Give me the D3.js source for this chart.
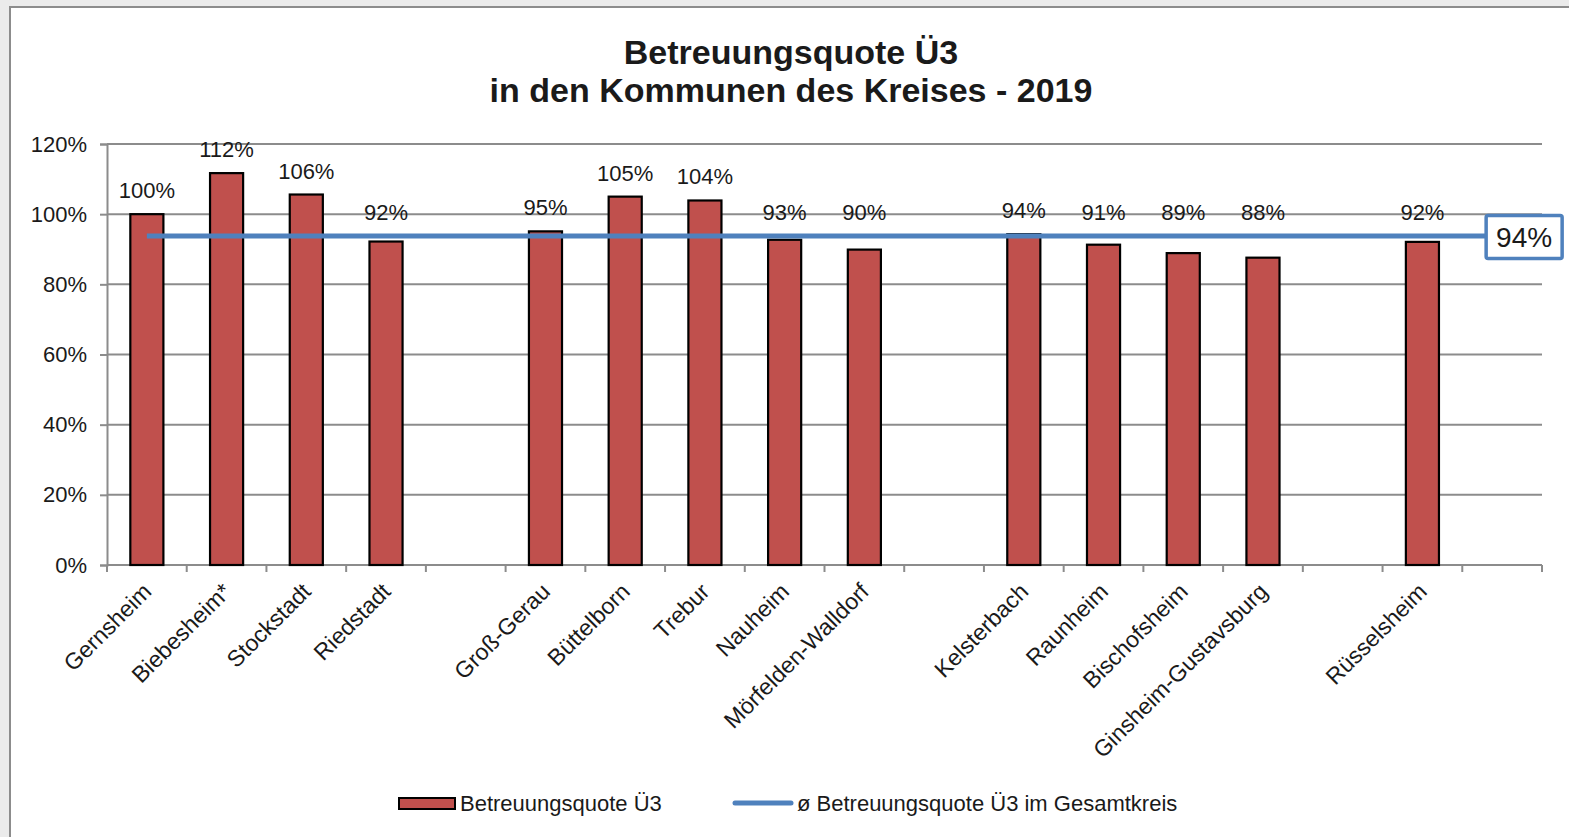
<!DOCTYPE html>
<html>
<head>
<meta charset="utf-8">
<script src="https://cdn.jsdelivr.net/npm/d3@7"></script>
<style>
  html, body { margin: 0; padding: 0; background: #ebebeb; }
  svg { display: block; }
  text { font-family: "Liberation Sans", Arial, sans-serif; fill: #1a1a1a; }
</style>
</head>
<body>
<script>
// ---- data ----
const titleLines = ["Betreuungsquote Ü3", "in den Kommunen des Kreises - 2019"];
const categories = ["Gernsheim", "Biebesheim*", "Stockstadt", "Riedstadt", null,
  "Groß-Gerau", "Büttelborn", "Trebur", "Nauheim", "Mörfelden-Walldorf", null,
  "Kelsterbach", "Raunheim", "Bischofsheim", "Ginsheim-Gustavsburg", null,
  "Rüsselsheim", null];
const quote = [1.00, 1.117, 1.056, 0.922, null,
  0.951, 1.050, 1.039, 0.927, 0.899, null,
  0.943, 0.913, 0.889, 0.876, null,
  0.921, null];
const average = 0.938;
const yTicks = [0, 0.2, 0.4, 0.6, 0.8, 1.0, 1.2];
const seriesNames = ["Betreuungsquote Ü3", "ø Betreuungsquote Ü3 im Gesamtkreis"];

// ---- layout ----
const W = 1569, H = 837;
const pL = 107, pR = 1542, pT = 144, pB = 565;
const barColor = "#C0504D", lineColor = "#4F81BD", gridColor = "#8c8c8c";
const pct = d3.format(".0%");

const svg = d3.select("body").append("svg").attr("width", W).attr("height", H);

// chart frame
svg.append("rect").attr("x", 10).attr("y", 7).attr("width", W + 10).attr("height", H + 10)
  .attr("fill", "#fff").attr("stroke", "#8c8c8c").attr("stroke-width", 2);

// title
svg.append("text").attr("x", 791).attr("y", 64).attr("text-anchor", "middle")
  .style("font-size", "34px").style("font-weight", "bold").text(titleLines[0]);
svg.append("text").attr("x", 791).attr("y", 102).attr("text-anchor", "middle")
  .style("font-size", "34px").style("font-weight", "bold").text(titleLines[1]);

const x = d3.scaleBand().domain(d3.range(categories.length)).range([pL, pR]).padding(0);
const y = d3.scaleLinear().domain([0, 1.2]).range([pB, pT]);
const step = x.bandwidth();
const barW = step * 0.415;
const cx = i => x(i) + step / 2;

// gridlines
svg.append("g").selectAll("line").data(yTicks.filter(t => t > 0)).join("line")
  .attr("x1", pL).attr("x2", pR).attr("y1", d => y(d)).attr("y2", d => y(d))
  .attr("stroke", gridColor).attr("stroke-width", 2);

// y axis
const yAxis = svg.append("g").attr("transform", `translate(${pL},0)`)
  .call(d3.axisLeft(y).tickValues(yTicks).tickFormat(pct).tickSize(7).tickPadding(13));
yAxis.select(".domain").attr("stroke", gridColor).attr("stroke-width", 2);
yAxis.selectAll(".tick line").attr("stroke", gridColor).attr("stroke-width", 2);
yAxis.selectAll(".tick text").style("font-size", "22px").attr("fill", "#1a1a1a")
  .style("font-family", "'Liberation Sans', Arial, sans-serif");

// x axis (slot boundary ticks)
const bounds = d3.range(categories.length + 1).map(i => pL + i * step);
svg.append("line").attr("x1", pL).attr("x2", pR).attr("y1", pB).attr("y2", pB)
  .attr("stroke", gridColor).attr("stroke-width", 2);
svg.append("g").selectAll("line").data(bounds).join("line")
  .attr("x1", d => d).attr("x2", d => d).attr("y1", pB).attr("y2", pB + 7)
  .attr("stroke", gridColor).attr("stroke-width", 2);

// category labels
svg.append("g").selectAll("text")
  .data(categories.map((c, i) => ({ c, i })).filter(d => d.c))
  .join("text")
  .attr("transform", d => `translate(${cx(d.i) + 6},${pB + 28}) rotate(-45)`)
  .attr("text-anchor", "end")
  .style("font-size", "23px")
  .text(d => d.c);

// bars
const barData = quote.map((v, i) => ({ v, i })).filter(d => d.v != null);
svg.append("g").selectAll("rect").data(barData).join("rect")
  .attr("x", d => cx(d.i) - barW / 2).attr("width", barW)
  .attr("y", d => y(d.v)).attr("height", d => y(0) - y(d.v))
  .attr("fill", barColor).attr("stroke", "#000").attr("stroke-width", 2.2);

// average line
const lineData = categories.map((c, i) => i);
svg.append("path")
  .attr("d", d3.line().x(i => cx(i)).y(() => y(average))(lineData))
  .attr("fill", "none").attr("stroke", lineColor).attr("stroke-width", 5);

// bar labels
svg.append("g").selectAll("text").data(barData).join("text")
  .attr("x", d => cx(d.i))
  .attr("y", d => Math.min(y(d.v), y(average)) - 16)
  .attr("text-anchor", "middle").style("font-size", "22px")
  .text(d => pct(d.v));

// average label box at last point
const lastX = cx(categories.length - 1);
const boxW = 76, boxH = 43;
svg.append("rect").attr("x", lastX - 16).attr("y", y(average) - boxH / 2 + 1)
  .attr("width", boxW).attr("height", boxH).attr("rx", 2)
  .attr("fill", "#fff").attr("stroke", lineColor).attr("stroke-width", 3.5);
svg.append("text").attr("x", lastX - 16 + boxW / 2).attr("y", y(average) + 11)
  .attr("text-anchor", "middle").style("font-size", "28px").text(pct(average));

// legend
const ly = 803;
svg.append("rect").attr("x", 399).attr("y", ly - 5).attr("width", 56).attr("height", 11)
  .attr("fill", barColor).attr("stroke", "#000").attr("stroke-width", 2);
svg.append("text").attr("x", 460).attr("y", ly + 8).style("font-size", "22px").text(seriesNames[0]);
svg.append("line").attr("x1", 735).attr("x2", 791).attr("y1", ly).attr("y2", ly)
  .attr("stroke", lineColor).attr("stroke-width", 5).attr("stroke-linecap", "round");
svg.append("text").attr("x", 797).attr("y", ly + 8).style("font-size", "22px").text(seriesNames[1]);
</script>
</body>
</html>
